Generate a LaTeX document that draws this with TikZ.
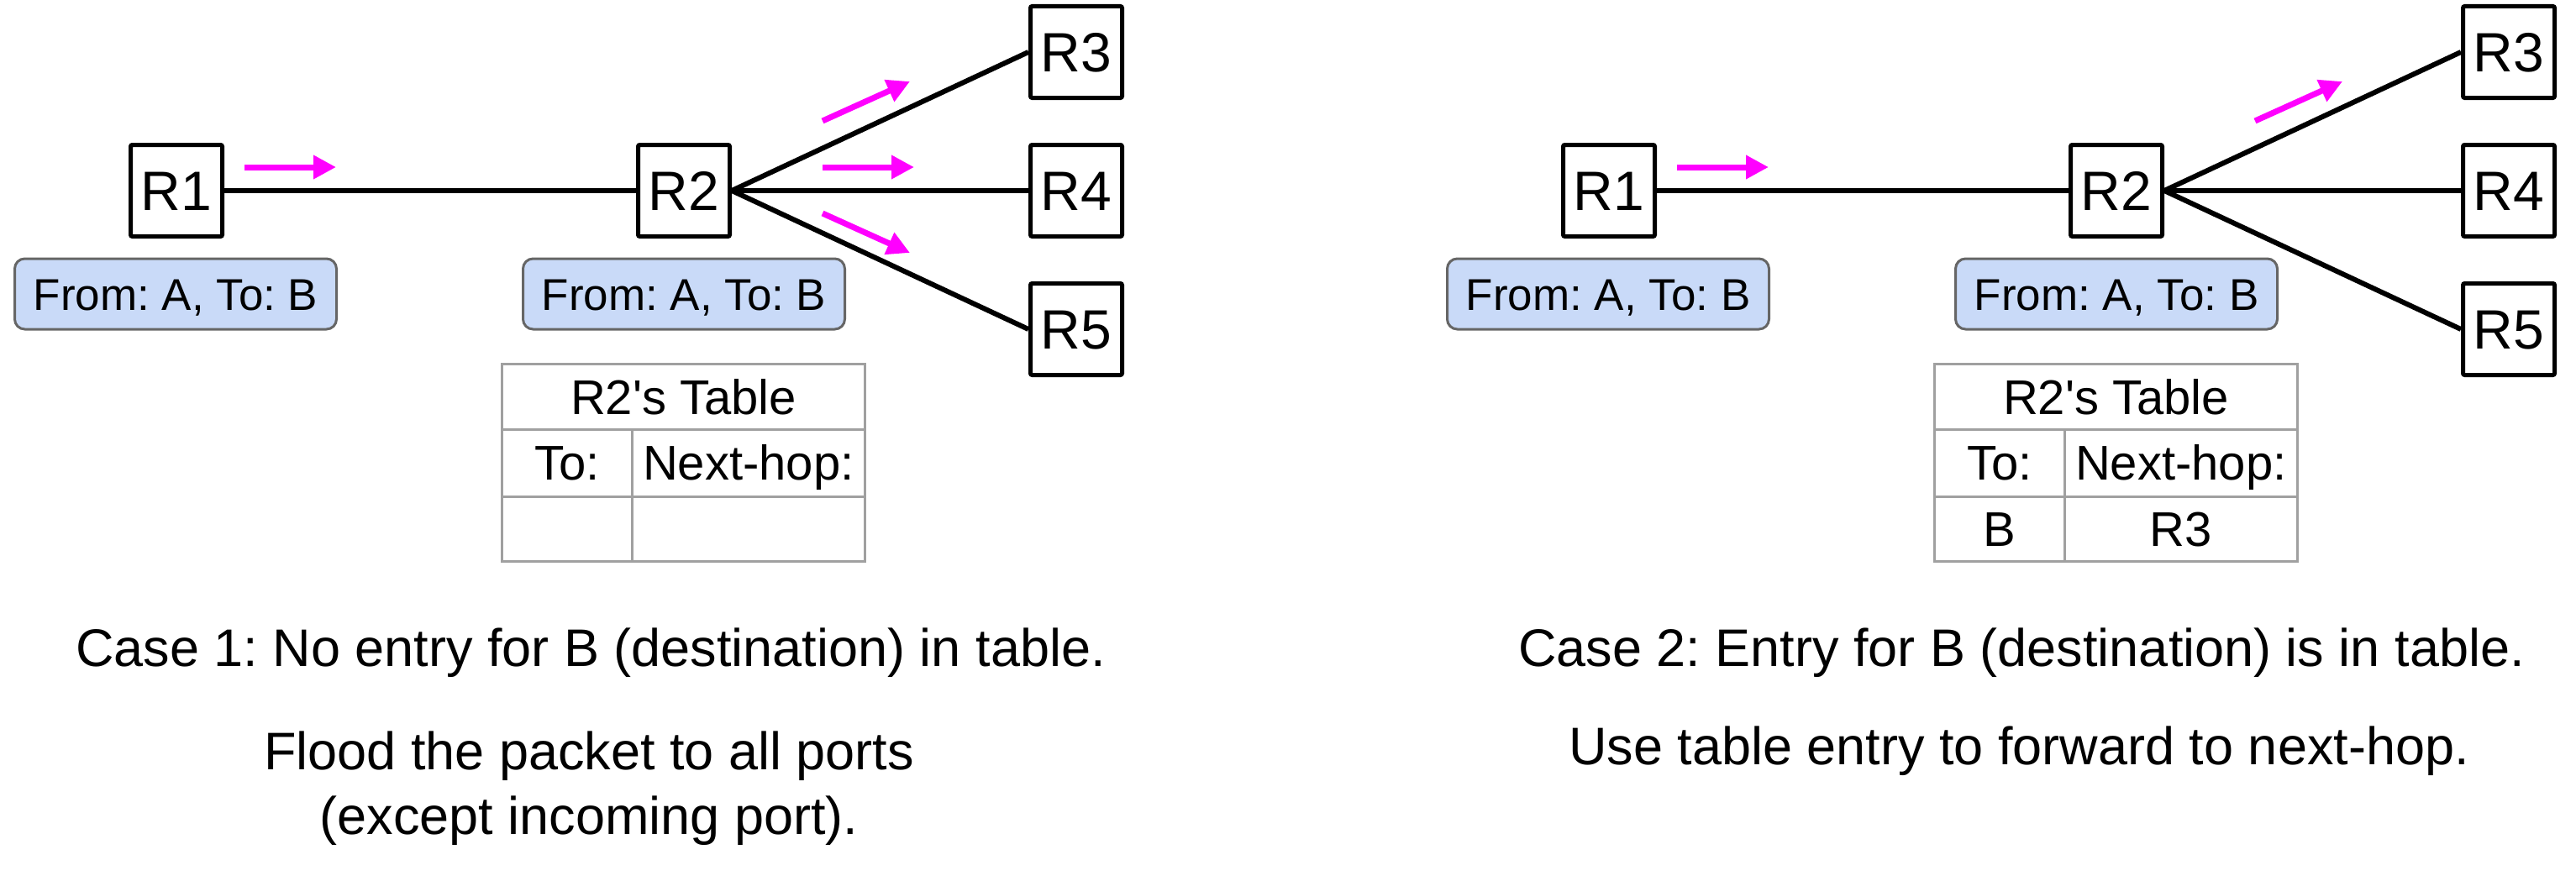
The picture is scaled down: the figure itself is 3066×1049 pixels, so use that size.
\documentclass[tikz,border=0pt]{standalone}
\usepackage{fontspec}
\setmainfont{Liberation Sans}
\usetikzlibrary{arrows.meta}
\frenchspacing

\definecolor{flowcolor}{HTML}{FF00FF}
\definecolor{packetfill}{HTML}{C9DAF8}
\definecolor{packetline}{HTML}{666666}
\definecolor{tablegray}{HTML}{A0A0A0}

\newcommand\routerfont{\fontsize{66}{79}\selectfont}
\newcommand\packetfont{\fontsize{53}{64}\selectfont}
\newcommand\cellfont{\fontsize{58}{70}\selectfont}
\newcommand\captionfont{\fontsize{63}{77}\selectfont}
% same font without the tex-text mapping, for a straight quote
\font\straightquote="Liberation Sans" at 58pt

\tikzstyle{router}=[draw,line width=5pt,rounded corners=2pt,minimum size=109pt,inner sep=0pt,
    font=\routerfont,text height=47pt,text depth=0pt]
\tikzstyle{packet}=[draw=packetline,fill=packetfill,line width=3pt,rounded corners=12pt,
    minimum width=383pt,minimum height=84pt,inner sep=0pt,font=\packetfont,text height=38pt,text depth=0pt]
\tikzstyle{cell}=[draw=tablegray,line width=3pt,inner sep=0pt,outer sep=0pt,
    font=\cellfont,text height=41.5pt,text depth=0pt]
\tikzstyle{link}=[draw,line width=6pt]
\tikzstyle{flow}=[draw,line width=7pt,flowcolor,-{Triangle[length=27pt,width=27pt]}]
\tikzstyle{caption}=[font=\captionfont,inner sep=0pt,anchor=base]

\begin{document}
\begin{tikzpicture}[x=1pt,y=-1pt]
    \useasboundingbox (0,0) rectangle (3066,1049);
    % Draw both networks, the second one sits 1705 to the right
    \foreach \c/\dx/\dest/\hop in {L/0/{}/{},R/1705/B/R3} {
    \begin{scope}[xshift=\dx]
    % First the routers
    \foreach \pos/\name in {{(210,227)/R1},{(814,227)/R2},
        {(1281,62)/R3},{(1281,227)/R4},{(1281,392)/R5}}
    \node[router] (\c-\name) at \pos {\name};
    % Then the packet headers
    \foreach \pos/\name in {{(209,350)/P1},{(814,350)/P2}}
    \node[packet] (\c-\name) at \pos {From: A, To: B};
    % Links
    \path[link] (\c-R1) -- (\c-R2);
    \foreach \nbr in {R3,R4,R5}
    \path[link] (\c-R2.east) -- (\c-\nbr.west);
    % R2's table
    \node[cell,minimum width=432pt,minimum height=77.5pt] (\c-head) at (813.5,472.25) {R2{\straightquote'}s Table};
    \node[cell,anchor=north west,minimum width=154.5pt,minimum height=80pt] (\c-to) at (\c-head.south west) {To:};
    \node[cell,anchor=north west,minimum width=277.5pt,minimum height=80pt] (\c-hop) at (\c-to.north east) {Next-hop:};
    \node[cell,anchor=north west,minimum width=154.5pt,minimum height=77.5pt] (\c-dest) at (\c-to.south west) {\dest};
    \node[cell,anchor=north west,minimum width=277.5pt,minimum height=77.5pt] (\c-next) at (\c-dest.north east) {\hop};
    \end{scope}
    }
    % Packet movement
    \foreach \name/\xa/\ya/\xb/\yb in {a/291/199/400/199,b/979/144/1083/97,
        c/979/199/1088/199,d/979/254/1083/301,
        e/1996/199/2105/199,f/2684/144/2788/97} {
    \coordinate (\name-s) at (\xa,\ya);
    \coordinate (\name-e) at (\xb,\yb);
    \path[flow] (\name-s) -- (\name-e);
    }
    % Captions
    \node[caption] (case1) at (703,793) {Case 1: No entry for B (destination) in table.};
    \node[caption,align=center] (rule1) at (701,993) {Flood the packet to all ports\\(except incoming port).};
    \node[caption] (case2) at (2406,793) {Case 2: Entry for B (destination) is in table.};
    \node[caption] (rule2) at (2403,910) {Use table entry to forward to next-hop.};
\end{tikzpicture}
\end{document}
